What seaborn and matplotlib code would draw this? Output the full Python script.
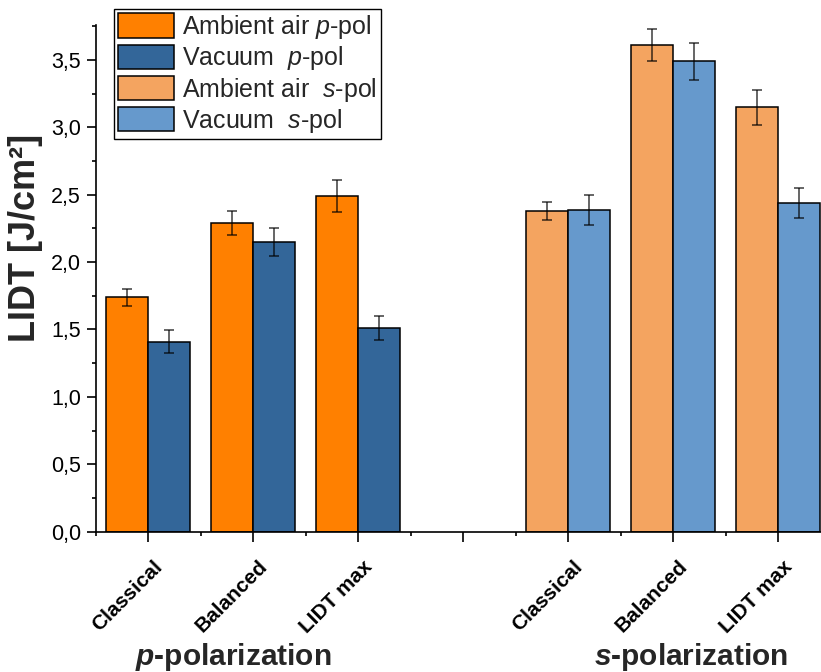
import numpy as np
import pandas as pd
import seaborn as sns
import matplotlib.pyplot as plt
import matplotlib.transforms as mtransforms
from matplotlib.patches import Patch
from matplotlib.ticker import MultipleLocator, FixedLocator, FuncFormatter

designs = ["Classical", "Balanced", "LIDT max"]
air_p = [1.74, 2.29, 2.49]
air_p_err = [0.064, 0.088, 0.12]
vac_p = [1.41, 2.15, 1.51]
vac_p_err = [0.086, 0.104, 0.09]
air_s = [2.38, 3.61, 3.15]
air_s_err = [0.069, 0.12, 0.13]
vac_s = [2.39, 3.49, 2.44]
vac_s_err = [0.111, 0.139, 0.111]

colors = {("p", "Ambient air"): "#FF8000", ("p", "Vacuum"): "#336699",
          ("s", "Ambient air"): "#F4A460", ("s", "Vacuum"): "#6699CC"}

# long table, one row per bar
rows = []
for pol, air, air_e, vac, vac_e in [("p", air_p, air_p_err, vac_p, vac_p_err),
                                    ("s", air_s, air_s_err, vac_s, vac_s_err)]:
    for i, d in enumerate(designs):
        rows.append(dict(pol=pol, design=d, slot=pol + " " + d, medium="Ambient air", value=air[i], err=air_e[i]))
        rows.append(dict(pol=pol, design=d, slot=pol + " " + d, medium="Vacuum", value=vac[i], err=vac_e[i]))
df = pd.DataFrame(rows)

order = ["p " + d for d in designs] + ["gap"] + ["s " + d for d in designs]
tick_labels = designs + [""] + designs

sns.set_style("ticks")
plt.rcParams["font.family"] = ["Liberation Sans", "DejaVu Sans"]
plt.rcParams["mathtext.fontset"] = "custom"
plt.rcParams["mathtext.rm"] = "Liberation Sans"
plt.rcParams["mathtext.it"] = "Liberation Sans:italic"
plt.rcParams["mathtext.bf"] = "Liberation Sans:bold"
plt.rcParams["mathtext.bfit"] = "Liberation Sans:bold:italic"

fig = plt.figure(figsize=(8.21, 6.72), dpi=100)
ax = fig.add_axes([95.5 / 821, 1 - 531.6 / 672, 735 / 821, (531.6 - 25) / 672])

sns.barplot(data=df, x="slot", y="value", hue="medium", order=order,
            hue_order=["Ambient air", "Vacuum"], width=0.8, errorbar=None,
            edgecolor="black", linewidth=1.1, legend=False, ax=ax)

# recolour bars per polarization and add the error bars
for cont, medium in zip(ax.containers, ["Ambient air", "Vacuum"]):
    for bar in cont:
        h = bar.get_height()
        if not np.isfinite(h) or h == 0:
            continue
        cx = bar.get_x() + bar.get_width() / 2
        slot = order[int(round(cx))]
        r = df[(df.slot == slot) & (df.medium == medium)].iloc[0]
        bar.set_facecolor(colors[(r.pol, medium)])
        ax.errorbar(cx, r.value, yerr=r.err, fmt="none", ecolor="black", alpha=0.65,
                    elinewidth=1.3, capsize=3.3, capthick=1.3, zorder=5)

ax.set_xlim(-0.5, 6.5)
ax.set_ylim(0, 3.76)
ax.set_xlabel("")
ax.set_ylabel("")
ax.set_xticks(range(len(order)))
ax.set_xticklabels(tick_labels, rotation=45, ha="right", va="center",
                   rotation_mode="anchor", fontweight="bold", fontsize=15)
ax.xaxis.set_minor_locator(FixedLocator(np.arange(-0.5, 7, 1)))
ax.yaxis.set_major_locator(MultipleLocator(0.5))
ax.yaxis.set_minor_locator(MultipleLocator(0.25))
ax.yaxis.set_major_formatter(FuncFormatter(lambda v, p: f"{v:.1f}".replace(".", ",")))
ax.tick_params(axis="y", which="major", labelsize=15.5, length=6.5, width=1.2, pad=4, colors="black")
ax.tick_params(axis="x", which="major", length=7, width=1.2, pad=16, colors="black")
ax.tick_params(which="minor", length=3.2, width=1.2, colors="black")
offset = mtransforms.ScaledTranslation(8 / 72, 0, fig.dpi_scale_trans)
for lbl in ax.get_xticklabels():
    lbl.set_transform(lbl.get_transform() + offset)
sns.despine(ax=ax)
for s in ["left", "bottom"]:
    ax.spines[s].set_linewidth(1.2)
    ax.spines[s].set_color("black")

fig.text(26 / 821, 1 - 238 / 672, "LIDT [J/cm²]", rotation=90, ha="center", va="center",
         fontsize=26, fontweight="bold")

blend = mtransforms.blended_transform_factory(ax.transData, fig.transFigure)
ax.text(0.81, 1 - 665 / 672, "$\\mathbfit{p}$-polarization", transform=blend,
        ha="center", va="baseline", fontsize=21.5, fontweight="bold")
ax.text(5.17, 1 - 665 / 672, "$\\mathbfit{s}$-polarization", transform=blend,
        ha="center", va="baseline", fontsize=21.5, fontweight="bold")

handles = [Patch(facecolor=colors[k], edgecolor="black", linewidth=1.1) for k in
           [("p", "Ambient air"), ("p", "Vacuum"), ("s", "Ambient air"), ("s", "Vacuum")]]
labels = ["Ambient air $\\mathit{p}$-pol", "Vacuum  $\\mathit{p}$-pol",
          "Ambient air  $\\mathit{s}$-pol", "Vacuum  $\\mathit{s}$-pol"]
leg = ax.legend(handles, labels, loc="upper left", bbox_to_anchor=(114 / 821, 1 - 9 / 672),
                bbox_transform=fig.transFigure, borderaxespad=0, fontsize=18,
                handlelength=2.24, handleheight=1.12, handletextpad=0.32,
                labelspacing=0.13, borderpad=0.16, fancybox=False, framealpha=1)
leg.get_frame().set_edgecolor("black")
leg.get_frame().set_linewidth(1.0)

fig.savefig("out.png", dpi=100)
